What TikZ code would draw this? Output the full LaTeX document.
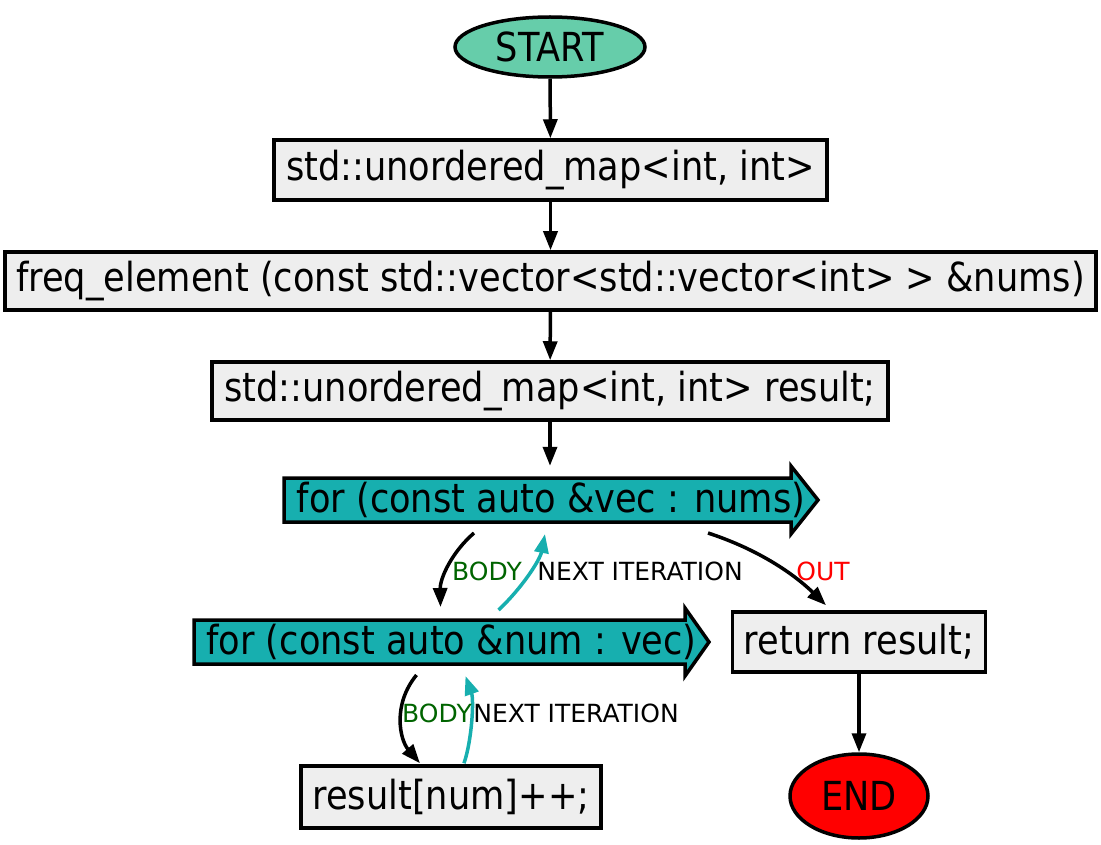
\documentclass[tikz,border=0pt]{standalone}
\usepackage{fontspec}
\setmainfont{DejaVu Sans}[FakeStretch=0.88]
\newfontfamily\lblfont{DejaVu Sans}
\usetikzlibrary{arrows.meta,calc,shapes.geometric}
\definecolor{boxgray}{HTML}{EEEEEE}
\definecolor{startc}{HTML}{66CDAA}
\definecolor{loopc}{HTML}{17AFAF}
\definecolor{bodyc}{HTML}{006400}
\begin{document}
\begin{tikzpicture}[x=1pt,y=-1pt,
  every node/.style={font=\fontsize{40}{44}\selectfont, inner sep=0pt},
  stmt/.style={draw, line width=3.5pt, fill=boxgray, rectangle},
  term/.style={draw, line width=3.5pt, ellipse},
  loopshape/.style={draw, line width=3.5pt, fill=loopc, line join=miter},
  edge/.style={line width=3.5pt, -{Triangle[length=19pt,width=14pt]}},
  nextedge/.style={edge, draw=loopc, -{Triangle[length=19pt,width=14pt,fill=loopc]}},
  lbl/.style={font=\lblfont\fontsize{25}{28}\selectfont}
]
\useasboundingbox (0,0) rectangle (1101,845);
% nodes
\node[term, fill=startc, minimum width=190, minimum height=60] (start) at (550,47) {START};
\node[stmt, minimum width=553, minimum height=60] (b1) at (550.5,170) {std::unordered\_map<int, int>};
\node[stmt, minimum width=1091, minimum height=58] (b2) at (550.5,281) {freq\_element (const std::vector<std::vector<int> > \&nums)};
\node[stmt, minimum width=676, minimum height=58] (b3) at (550,391) {std::unordered\_map<int, int> result;};
% loop 1 shape
\draw[loopshape] (284,478) -- (791,478) -- (791,466) -- (818,500) -- (791,534) -- (791,522) -- (284,522) -- cycle;
\node[minimum width=534, minimum height=68] (l1) at (551,500) {for (const auto \&vec : nums)};
% loop 2 shape
\draw[loopshape] (194,620) -- (685,620) -- (685,608) -- (709,642) -- (685,676) -- (685,664) -- (194,664) -- cycle;
\node[minimum width=515, minimum height=68] (l2) at (451.5,642) {for (const auto \&num : vec)};
\node[stmt, minimum width=253, minimum height=60] (ret) at (859,642) {return result;};
\node[stmt, minimum width=300, minimum height=62] (res) at (451,797) {result[num]++;};
\node[term, fill=red, minimum width=138, minimum height=84] (end) at (859,796) {END};
% edges
\draw[edge] (start) -- (b1);
\draw[edge] (b1) -- (b2);
\draw[edge] (b2) -- (b3);
\draw[edge] (b3) -- (b3 |- l1.north);
\draw[edge] ($(l1.center)+(-77,33)$) .. controls (452,552) and (440,578) .. ($(l2.center)+(-11,-35)$);
\draw[nextedge] ($(l2.center)+(47,-32)$) .. controls (522,588) and (540,560) .. ($(l1.center)+(-6,34)$);
\draw[edge] ($(l1.center)+(157,33)$) .. controls (760,550) and (795,575) .. ($(ret.north)+(-33,-5)$);
\draw[edge] ($(l2.center)+(-35,33)$) .. controls (392,705) and (400,740) .. ($(res.north)+(-31,-1)$);
\draw[nextedge] ($(res.north)+(13,-1)$) .. controls (472,740) and (474,700) .. ($(l2.center)+(14,34)$);
\draw[edge] (ret) -- (end);
% labels
\node[lbl, text=bodyc] (lb1) at (487,571) {BODY};
\node[lbl] (ln1) at (640,571) {NEXT ITERATION};
\node[lbl, text=red] (lo) at (823,571) {OUT};
\node[lbl, text=bodyc] (lb2) at (437,713) {BODY};
\node[lbl] (ln2) at (576,713) {NEXT ITERATION};
\end{tikzpicture}
\end{document}
